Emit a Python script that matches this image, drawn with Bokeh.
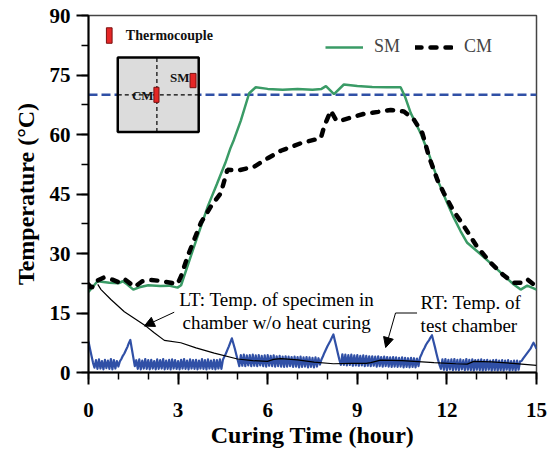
import numpy as np
from bokeh.plotting import figure
from bokeh.models import Range1d, FixedTicker, Label, Arrow, NormalHead
from bokeh.core.properties import value
from bokeh.embed import file_html
from bokeh.resources import INLINE

# ---------------- data ----------------
x_ticks = [0, 3, 6, 9, 12, 15]
x_minor = [0, 1, 2, 3, 4, 5, 6, 7, 8, 9, 10, 11, 12, 13, 14, 15]
y_ticks = [0, 15, 30, 45, 60, 75, 90]
y_minor = [0, 7.5, 15, 22.5, 30, 37.5, 45, 52.5, 60, 67.5, 75, 82.5, 90]

target_temp = 70

sm_t = [0, 0.3, 0.7, 1.0, 1.15, 1.3, 1.5, 1.7, 2.0, 2.4, 2.7, 2.98, 3.1, 3.5, 4.0, 4.3,
        4.58, 4.75, 4.87, 5.1, 5.38, 5.6, 6.0, 6.5, 7.0, 7.5, 7.8, 7.95, 8.22, 8.55, 9.0,
        9.5, 10.0, 10.45, 10.6, 10.79, 11.12, 11.4, 11.73, 11.96, 12.2, 12.46, 12.68,
        13.13, 13.57, 14.0, 14.24, 14.47, 14.69, 14.85, 15.0]
sm_T = [20.3, 23.0, 22.6, 22.5, 23.0, 22.2, 20.9, 21.5, 22.0, 21.8, 21.9, 21.4, 22.0, 31.0,
        42.0, 47.5, 52.8, 56.5, 58.7, 63.5, 70.4, 71.9, 71.5, 71.3, 71.5, 71.3, 71.5, 72.2,
        70.2, 72.6, 72.2, 72.0, 71.9, 71.9, 69.5, 65.4, 60.3, 55.0, 47.8, 43.6, 39.5, 35.6,
        32.7, 29.8, 26.8, 23.8, 22.2, 20.9, 21.9, 21.4, 20.9]

cm_t = [0, 0.1, 0.25, 0.5, 0.8, 1.0, 1.2, 1.4, 1.55, 1.8, 2.1, 2.4, 2.7, 2.98, 3.1, 3.32,
        3.76, 4.1, 4.43, 4.65, 4.99, 5.55, 6.0, 6.44, 7.11, 7.78, 7.89, 8.11, 8.3, 8.44,
        9.22, 9.7, 10.12, 10.56, 10.9, 11.18, 11.4, 11.68, 11.9, 12.2, 12.57, 13.0, 13.46,
        13.9, 14.24, 14.5, 14.69, 14.97]
cm_T = [22.2, 21.3, 23.0, 23.9, 23.4, 22.8, 23.6, 22.4, 21.6, 23.0, 23.3, 23.1, 22.7, 22.3,
        24.3, 29.3, 37.7, 41.9, 45.2, 51.1, 50.9, 51.9, 54.0, 55.9, 57.8, 59.1, 62.0, 66.0,
        63.5, 63.5, 65.2, 65.7, 66.2, 65.8, 63.7, 60.3, 54.4, 48.6, 45.2, 41.0, 36.9, 31.8,
        27.7, 24.5, 22.6, 22.6, 23.5, 21.8]

lt_t = [0.31, 0.42, 0.75, 1.2, 1.87, 2.2, 2.54, 3.09, 3.6, 4.21, 4.99, 5.5, 5.99, 6.2, 6.44,
        7.0, 7.55, 8.2, 8.8, 9.3, 9.45, 9.78, 10.5, 11.57, 12.3, 12.68, 12.9, 13.5, 14.2, 15.0]
lt_T = [22.2, 20.9, 18.4, 15.3, 12.0, 10.0, 8.1, 7.5, 6.2, 4.9, 3.4, 3.0, 2.8, 3.3, 3.5,
        3.2, 2.6, 2.2, 2.3, 2.3, 2.5, 3.1, 3.0, 2.5, 2.2, 2.1, 2.8, 2.7, 2.3, 1.8]

# room temperature, sampled every 0.05 h from 0 to 15 h
rt_T = [7.8, 6.0, 4.2, 2.5, 1.2,
        3.1, 0.9, 3.3, 1.0, 2.9, 0.8, 3.2, 1.1, 3.0, 0.9, 3.4, 0.8, 3.1, 1.0, 2.9, 1.5,
        2.8, 3.4, 4.2, 4.8, 5.6, 6.4, 7.4, 8.2, 6.0, 3.8, 1.6,
        3.1, 0.9, 3.3, 0.8, 3.0, 1.0, 3.4, 0.9, 3.1, 0.8,
        3.2, 1.0, 2.9, 0.8, 3.3, 0.9, 3.1, 1.0, 3.4, 0.8,
        3.0, 0.9, 3.2, 0.8, 3.3, 1.0, 3.1, 0.9, 2.9, 0.8,
        3.2, 1.0, 3.4, 0.9, 3.0, 0.8, 3.3, 1.0, 3.1, 0.9,
        3.2, 0.8, 3.0, 1.0, 3.4, 0.9, 3.1, 0.8, 3.3, 1.0,
        3.0, 0.9, 3.2, 0.8, 3.1, 1.0, 3.3, 0.9,
        3.2, 4.0, 4.8, 5.7, 6.6, 7.6, 8.6, 7.3, 6.0, 4.5, 3.0, 1.6,
        4.4, 1.7, 4.5, 1.6, 4.3, 1.8, 4.4, 1.6, 4.5, 1.7,
        4.3, 1.6, 4.4, 1.8, 4.2, 1.6, 4.3, 1.5, 4.4, 1.7,
        4.2, 1.6, 4.3, 1.5, 4.1, 1.6, 4.2, 1.5, 4.0, 1.4,
        4.1, 1.5, 4.0, 1.6, 3.9, 1.4, 4.0, 1.5, 3.9, 1.3,
        4.0, 1.4, 3.8, 1.5, 3.9, 1.3, 3.8, 1.4, 3.7, 1.3,
        3.8, 1.5, 3.6, 2.0,
        3.3, 4.1, 5.0, 5.8, 6.6, 7.3, 8.0, 8.8, 9.6, 8.0, 6.4, 4.8, 3.2,
        1.9, 4.6, 1.9, 4.5, 1.8, 4.4, 1.9, 4.5, 1.7, 4.3,
        1.8, 4.4, 1.7, 4.2, 1.8, 4.3, 1.6, 4.2, 1.7, 4.1,
        1.6, 4.1, 1.7, 4.0, 1.5, 4.1, 1.6, 3.9, 1.5, 4.0,
        1.6, 3.9, 1.5, 3.8, 1.4, 3.9, 1.5, 3.8, 1.4, 3.7,
        1.5, 3.8, 1.3, 3.7, 1.4, 3.6, 1.3, 3.7, 1.4, 3.6,
        1.3, 3.5, 1.6,
        3.8, 4.6, 5.5, 6.2, 7.0, 7.6, 8.1, 8.8, 9.4, 7.9, 6.4, 4.8, 3.3, 2.0,
        0.9, 3.3, 0.7, 3.4, 0.6, 3.2, 0.8, 3.3, 0.6, 3.4,
        0.7, 3.2, 0.6, 3.3, 0.8, 3.1, 0.6, 3.4, 0.7, 3.2,
        0.6, 3.3, 0.5, 3.1, 0.7, 3.2, 0.6, 3.3, 0.5, 3.1,
        0.6, 3.2, 0.7, 3.0, 0.5, 3.1, 0.6, 3.2, 0.5, 3.0,
        0.6, 3.1, 0.5, 3.0, 0.7, 3.1, 0.5, 2.9, 0.6, 3.0,
        0.5, 3.0, 0.7, 2.8,
        2.9, 3.5, 4.0, 4.5, 5.0, 5.5, 6.0, 6.8, 7.5, 6.8, 6.0]
rt_t = list(np.linspace(0, 15, len(rt_T)))

# ---------------- styles ----------------
GREEN = "#3a9b66"
BLUE = "#3050a6"
SERIF = "Liberation Serif"

p = figure(width=560, height=450, x_range=Range1d(0, 15), y_range=Range1d(0, 90),
           output_backend="svg", toolbar_location=None,
           min_border_left=88, min_border_right=24, min_border_top=15, min_border_bottom=77)
p.xgrid.visible = False
p.ygrid.visible = False
p.outline_line_color = "#444444"
p.outline_line_width = 1.5
p.background_fill_color = "white"

p.xaxis.ticker = FixedTicker(ticks=x_ticks, minor_ticks=x_minor)
p.yaxis.ticker = FixedTicker(ticks=y_ticks, minor_ticks=y_minor)
p.xaxis.axis_label = "Curing Time (hour)"
p.yaxis.axis_label = "Temperature (°C)"
for ax in (p.xaxis[0], p.yaxis[0]):
    ax.axis_line_width = 2
    ax.axis_line_color = "black"
    ax.major_tick_line_width = 2
    ax.minor_tick_line_width = 1.5
    ax.major_tick_in = 0
    ax.major_tick_out = 12
    ax.minor_tick_in = 0
    ax.minor_tick_out = 7
    ax.major_label_text_font = SERIF
    ax.major_label_text_font_style = "bold"
    ax.major_label_text_font_size = "21px"
    ax.major_label_text_color = "black"
    ax.axis_label_text_font = SERIF
    ax.axis_label_text_font_style = "bold"
    ax.axis_label_text_font_size = "24px"
    ax.axis_label_text_color = "black"
p.xaxis.major_label_standoff = 18
p.xaxis.axis_label_standoff = 2
p.yaxis.major_label_standoff = 6
p.yaxis.axis_label_standoff = 8

# target temperature line
p.line([x_ticks[0], x_ticks[-1]], [target_temp, target_temp], line_color=BLUE,
       line_width=2.5, line_dash="9 4")

# inset sketch of the specimen
p.quad(left=[0.98], right=[3.69], bottom=[60.6], top=[79.4], fill_color="#dcdcdc",
       line_color="black", line_width=2.5)
p.line([2.29, 2.29], [60.6, 79.4], line_color="black", line_width=1.2, line_dash="4 3")
p.line([0.98, 3.69], [70, 70], line_color="black", line_width=1.2, line_dash="4 3")
p.quad(left=[2.19, 3.40, 0.60], right=[2.36, 3.60, 0.79], bottom=[68.1, 71.8, 83.0],
       top=[71.9, 75.4, 86.9], fill_color="#e52626", line_color="#7a1010", line_width=1)
p.text(x=[3.38, 2.18], y=[74.3, 69.8], text=["SM", "CM"], text_font=value(SERIF),
       text_font_style="bold", text_font_size="13px", text_align="right",
       text_baseline="middle", text_color="#111111")
p.text(x=[1.25], y=[84.9], text=["Thermocouple"], text_font=value(SERIF),
       text_font_style="bold", text_font_size="14px", text_align="left",
       text_baseline="middle", text_color="#111111")

# curves
p.line(rt_t, rt_T, line_color=BLUE, line_width=2.2, line_join="round")
p.line(lt_t, lt_T, line_color="black", line_width=1.2)
p.line(sm_t, sm_T, line_color=GREEN, line_width=2.5, legend_label="SM")
p.line(cm_t, cm_T, line_color="black", line_width=4.5, line_dash="6 9", line_cap="round",
       legend_label="CM")

# annotations
for txt, xx, yy, al in [("LT: Temp. of specimen in", 6.3, 18.4, "center"),
                        ("chamber w/o heat curing", 6.3, 12.6, "center"),
                        ("RT: Temp. of", 11.12, 17.6, "left"),
                        ("test chamber", 11.12, 11.9, "left")]:
    p.add_layout(Label(x=xx, y=yy, text=txt, text_font=SERIF, text_font_size="19px",
                       text_align=al, text_baseline="middle", text_color="black"))

p.add_layout(Arrow(end=NormalHead(size=10, fill_color="black", line_color="black"),
                   x_start=2.87, y_start=15.2, x_end=1.87, y_end=11.7,
                   line_color="black", line_width=1))
p.line([11.0, 10.28], [15.0, 15.0], line_color="black", line_width=1)
p.add_layout(Arrow(end=NormalHead(size=10, fill_color="black", line_color="black"),
                   x_start=10.28, y_start=15.0, x_end=9.95, y_end=6.3,
                   line_color="black", line_width=1))

# legend
lg = p.legend[0]
lg.location = (237, 315)
lg.orientation = "horizontal"
lg.padding = 0
lg.margin = 0
lg.spacing = 15
lg.border_line_color = None
lg.background_fill_alpha = 0
lg.glyph_width = 38
lg.glyph_height = 20
lg.label_standoff = 11
lg.label_text_font = SERIF
lg.label_text_font_size = "18px"
lg.label_height = 20

open("out.html", "w").write(file_html(p, INLINE))
